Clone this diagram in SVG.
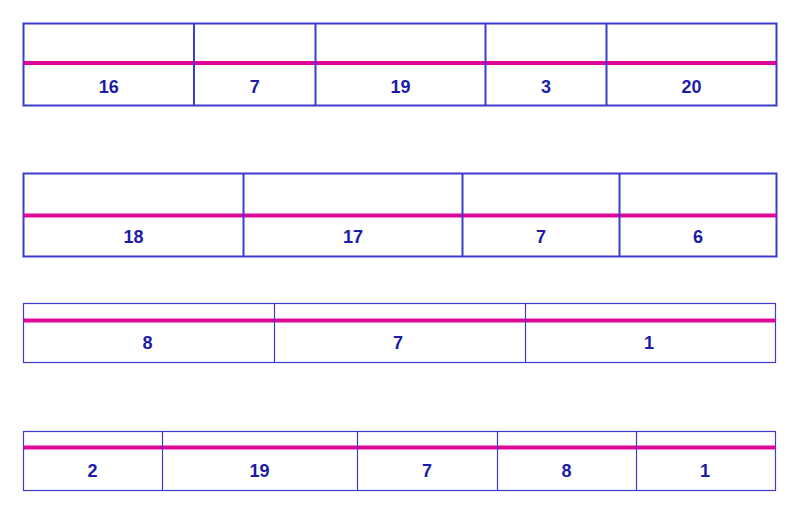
<svg xmlns="http://www.w3.org/2000/svg" width="800" height="518" viewBox="0 0 800 518">
<style>
.box{fill:#ffffff;stroke:#3b3bcc;}
.thick{stroke-width:2;}
.thin{stroke-width:1.2;}
.mag{stroke:#e0069b;stroke-width:4;}
.lbl{font-family:"Liberation Sans",Arial,sans-serif;font-weight:bold;font-size:18px;fill:#1c1ca8;text-anchor:middle;}
</style>
<rect width="800" height="518" fill="#ffffff"/>
<g id="row1">
<rect class="box thick" x="23.5" y="23.5" width="753" height="82"/>
<line class="mag" x1="23.5" y1="63" x2="776.5" y2="63"/>
<g class="box thick"><line x1="194" y1="23.5" x2="194" y2="105.5"/><line x1="315.5" y1="23.5" x2="315.5" y2="105.5"/><line x1="485.5" y1="23.5" x2="485.5" y2="105.5"/><line x1="606.5" y1="23.5" x2="606.5" y2="105.5"/></g>
<text class="lbl" x="108.8" y="92.5">16</text><text class="lbl" x="254.8" y="92.5">7</text><text class="lbl" x="400.5" y="92.5">19</text><text class="lbl" x="546" y="92.5">3</text><text class="lbl" x="691.5" y="92.5">20</text>
</g>
<g id="row2">
<rect class="box thick" x="23.5" y="173.5" width="753" height="83"/>
<line class="mag" x1="23.5" y1="215.5" x2="776.5" y2="215.5"/>
<g class="box thick"><line x1="243.5" y1="173.5" x2="243.5" y2="256.5"/><line x1="462.5" y1="173.5" x2="462.5" y2="256.5"/><line x1="619.5" y1="173.5" x2="619.5" y2="256.5"/></g>
<text class="lbl" x="133.5" y="242.5">18</text><text class="lbl" x="353" y="242.5">17</text><text class="lbl" x="541" y="242.5">7</text><text class="lbl" x="698" y="242.5">6</text>
</g>
<g id="row3">
<rect class="box thin" x="23.5" y="303.5" width="752" height="59"/>
<line class="mag" x1="23.5" y1="320.5" x2="775.5" y2="320.5"/>
<g class="box thin"><line x1="274.5" y1="303.5" x2="274.5" y2="362.5"/><line x1="525.5" y1="303.5" x2="525.5" y2="362.5"/></g>
<text class="lbl" x="147.5" y="349">8</text><text class="lbl" x="398" y="349">7</text><text class="lbl" x="649" y="349">1</text>
</g>
<g id="row4">
<rect class="box thin" x="23.5" y="431.5" width="752" height="59"/>
<line class="mag" x1="23.5" y1="447.5" x2="775.5" y2="447.5"/>
<g class="box thin"><line x1="162.5" y1="431.5" x2="162.5" y2="490.5"/><line x1="357.5" y1="431.5" x2="357.5" y2="490.5"/><line x1="497.5" y1="431.5" x2="497.5" y2="490.5"/><line x1="636.5" y1="431.5" x2="636.5" y2="490.5"/></g>
<text class="lbl" x="92.5" y="476.5">2</text><text class="lbl" x="259.5" y="476.5">19</text><text class="lbl" x="427" y="476.5">7</text><text class="lbl" x="566.5" y="476.5">8</text><text class="lbl" x="705" y="476.5">1</text>
</g>
</svg>
